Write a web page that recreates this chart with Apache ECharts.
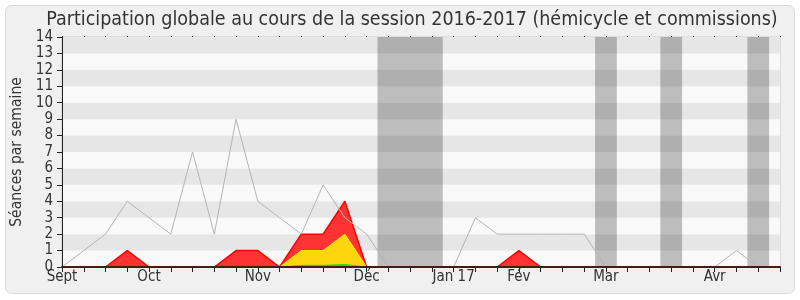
<!DOCTYPE html>
<html>
<head>
<meta charset="utf-8">
<script src="https://cdn.jsdelivr.net/npm/echarts@6/dist/echarts.min.js"></script>
<style>
html,body{margin:0;padding:0;background:#fff;}
#c{width:800px;height:300px;}
</style>
</head>
<body>
<div id="c"></div>
<script>
// Week categories (34 weeks, Sept 2016 -> Apr 2017); labels only at month starts
var weekLabels = ['Sept','','','','Oct','','','','','Nov','','','','','Déc','','','','Jan 17','','','Fév','','','','Mar','','','','','Avr','','',''];
// Total weekly sessions (gray line)
var totalSessions = [0,1,2,4,3,2,7,2,9,4,3,2,5,3,2,0,0,0,0,3,2,2,2,2,2,0,0,0,0,0,0,1,0,0];
// Red area
var redValues = [0,0,0,1,0,0,0,0,1,1,0,2,2,4,0,0,0,0,0,0,0,1,0,0,0,0,0,0,0,0,0,0,0,0];
// Yellow area
var yellowValues = [0,0,0,0,0,0,0,0,0,0,0,1,1,2,0,0,0,0,0,0,0,0,0,0,0,0,0,0,0,0,0,0,0,0];
// Green area
var greenValues = [0,0,0,0,0,0,0,0,0,0,0,0.1,0.1,0.15,0,0,0,0,0,0,0,0,0,0,0,0,0,0,0,0,0,0,0,0];
// Vacation periods (week index ranges)
var vacStart = [14.5, 24.5, 27.5, 31.5];
var vacEnd = [17.5, 25.5, 28.5, 32.5];
var yTicks = [0,1,2,3,4,5,6,7,8,9,10,11,12,13,14];

var FONT = "'DejaVu Sans Condensed','DejaVu Sans',sans-serif";
var chart = echarts.init(document.getElementById('c'), null, {renderer:'canvas'});

var vacAreas = vacStart.map(function(s,i){ return [{xAxis:s},{xAxis:vacEnd[i]}]; });

chart.setOption({
  animation:false,
  backgroundColor:'#ffffff',
  graphic:[{
    type:'rect', z:-10,
    shape:{x:5.5,y:5.5,width:789,height:288,r:6},
    style:{fill:'#f0f0f0',stroke:'#dcdcdc',lineWidth:1}
  }],
  title:{
    text:'Participation globale au cours de la session 2016-2017 (hémicycle et commissions)',
    left:407, top:5, textAlign:'center',
    textStyle:{fontFamily:FONT,fontSize:19.5,fontWeight:'normal',color:'#333'}
  },
  grid:{left:62,right:20,top:37,bottom:33,show:true,borderColor:'#cccccc',borderWidth:1,backgroundColor:'#f9f9f9'},
  xAxis:[{
    type:'category', data:weekLabels, boundaryGap:false, z:10,
    axisLine:{lineStyle:{color:'#4a1c0c',width:2}},
    axisTick:{show:true,interval:0,length:5,lineStyle:{color:'#222'}},
    axisLabel:{interval:0,margin:3,fontFamily:FONT,fontSize:15,color:'#333'},
    splitLine:{show:false}
  },{
    type:'category', data:weekLabels, boundaryGap:false, position:'top', z:10,
    axisLine:{show:false},
    axisTick:{show:true,interval:0,length:1,inside:false,lineStyle:{color:'#222'}},
    axisLabel:{show:false}
  },{
    type:'value', min:0, max:weekLabels.length-1, show:false
  }],
  yAxis:{
    type:'value', min:yTicks[0], max:yTicks[yTicks.length-1], interval:1,
    name:'Séances par semaine', nameLocation:'middle', nameGap:37,
    nameTextStyle:{fontFamily:FONT,fontSize:15.5,color:'#333'},
    axisLine:{show:true,lineStyle:{color:'#222'}},
    axisTick:{show:true,length:5,lineStyle:{color:'#222'}},
    axisLabel:{margin:9,fontFamily:FONT,fontSize:15,color:'#333'},
    splitLine:{show:false},
    splitArea:{show:true,areaStyle:{color:['#f9f9f9','#e6e6e6']}}
  },
  series:[{
    type:'line', data:redValues, symbol:'none', z:2,
    lineStyle:{color:'#ff0000',width:1.5},
    areaStyle:{color:'#ff3333',opacity:1}
  },{
    type:'line', data:yellowValues, symbol:'none', z:3,
    lineStyle:{color:'#ffee00',width:1},
    areaStyle:{color:'#ffd50d',opacity:1}
  },{
    type:'line', data:greenValues, symbol:'none', z:4,
    lineStyle:{color:'#22dd00',width:1},
    areaStyle:{color:'#22dd00',opacity:1}
  },{
    type:'line', data:totalSessions, symbol:'none', z:5,
    lineStyle:{color:'#b4b4b4',width:1}
  },{
    type:'line', xAxisIndex:2, data:[], z:6, silent:true,
    markArea:{silent:true,itemStyle:{color:'rgba(0,0,0,0.24)'},data:vacAreas}
  }]
});
</script>
</body>
</html>
